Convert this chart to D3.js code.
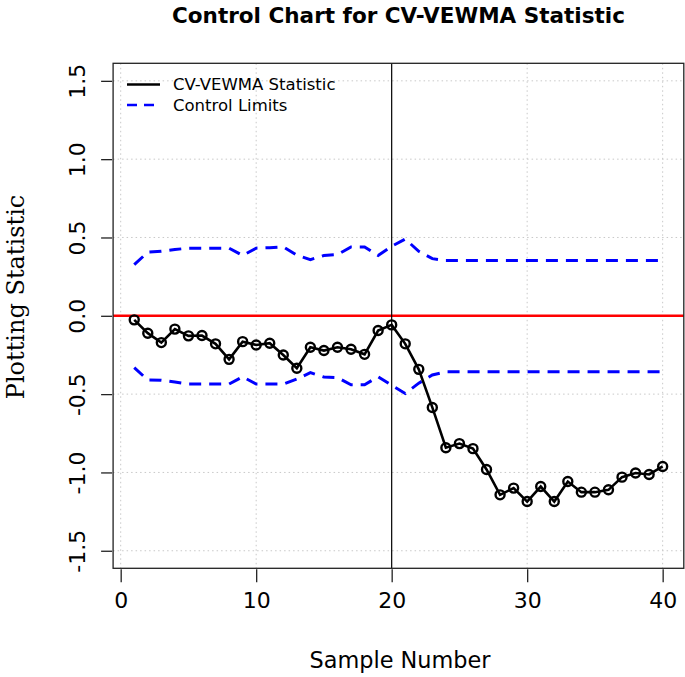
<!DOCTYPE html><html><head><meta charset="utf-8"></head>
<script src="https://cdn.jsdelivr.net/npm/d3@7"></script>
<body style="margin:0;background:#fff">
<svg id="chart"></svg>
<script>

// sample numbers 1..40 and the plotted statistic
var samples = [1,2,3,4,5,6,7,8,9,10,11,12,13,14,15,16,17,18,19,20,
               21,22,23,24,25,26,27,28,29,30,31,32,33,34,35,36,37,38,39,40];
var statistic = [-0.026,-0.111,-0.171,-0.085,-0.128,-0.126,-0.179,-0.278,-0.165,-0.186,
                 -0.175,-0.250,-0.335,-0.201,-0.222,-0.201,-0.214,-0.246,-0.094,-0.058,
                 -0.179,-0.342,-0.585,-0.842,-0.816,-0.848,-0.981,-1.143,-1.100,-1.186,
                 -1.090,-1.186,-1.058,-1.126,-1.126,-1.111,-1.030,-1.004,-1.013,-0.962];
var upperLimit = [0.327,0.406,0.412,0.423,0.432,0.432,0.432,0.432,0.385,0.432,
                  0.435,0.440,0.387,0.359,0.385,0.391,0.440,0.440,0.385,0.444,
                  0.490,0.412,0.365,0.353,0.353,0.353,0.353,0.353,0.353,0.353,
                  0.353,0.353,0.353,0.353,0.353,0.353,0.353,0.353,0.353,0.353];
var lowerLimit = [-0.331,-0.410,-0.412,-0.423,-0.436,-0.436,-0.436,-0.436,-0.389,-0.436,
                  -0.436,-0.436,-0.404,-0.363,-0.391,-0.395,-0.440,-0.440,-0.389,-0.444,
                  -0.496,-0.430,-0.378,-0.357,-0.357,-0.357,-0.357,-0.357,-0.357,-0.357,
                  -0.357,-0.357,-0.357,-0.357,-0.357,-0.357,-0.357,-0.357,-0.357,-0.357];
var xTicks = [0,10,20,30,40];
var yTicks = [-1.5,-1.0,-0.5,0.0,0.5,1.0,1.5];
var changePoint = 20;
var legendLabels = ["CV-VEWMA Statistic", "Control Limits"];

var width = 685, height = 677;
var sans = "DejaVu Sans, sans-serif";

var svg = d3.select("#chart")
    .attr("width", width)
    .attr("height", height)
    .style("font-family", sans);

var x = d3.scaleLinear().domain([-0.56, 41.56]).range([113.1, 683.8]);
var y = d3.scaleLinear().domain([-1.612, 1.612]).range([568.3, 63.3]);

// grid
svg.selectAll(".vgrid")
    .data(xTicks.filter(function(d) { return d != changePoint; }))
    .enter().append("line")
    .attr("x1", function(d) { return x(d); })
    .attr("x2", function(d) { return x(d); })
    .attr("y1", y.range()[1]).attr("y2", y.range()[0])
    .attr("stroke", "#c8c8c8").attr("stroke-width", 1)
    .attr("stroke-dasharray", "1.5,3");

svg.selectAll(".hgrid")
    .data(yTicks.filter(function(d) { return d != 0; }))
    .enter().append("line")
    .attr("y1", function(d) { return y(d); })
    .attr("y2", function(d) { return y(d); })
    .attr("x1", x.range()[0]).attr("x2", x.range()[1])
    .attr("stroke", "#c8c8c8").attr("stroke-width", 1)
    .attr("stroke-dasharray", "1.5,3");

// control limits
var limitLine = d3.line()
    .x(function(d, i) { return x(samples[i]); })
    .y(function(d) { return y(d); });

[upperLimit, lowerLimit].forEach(function(lim) {
  svg.append("path")
      .attr("d", limitLine(lim))
      .attr("fill", "none")
      .attr("stroke", "#0000ff")
      .attr("stroke-width", 3)
      .attr("stroke-dasharray", "12,8");
});

// centre line and change point
svg.append("line")
    .attr("x1", x.range()[0]).attr("x2", x.range()[1])
    .attr("y1", y(0)).attr("y2", y(0))
    .attr("stroke", "#ff0000").attr("stroke-width", 2.5);

svg.append("line")
    .attr("x1", x(changePoint)).attr("x2", x(changePoint))
    .attr("y1", y.range()[1]).attr("y2", y.range()[0])
    .attr("stroke", "#000").attr("stroke-width", 1.2);

// statistic (line runs through open circles, like type="o")
svg.append("path")
    .attr("d", d3.line()
        .x(function(d, i) { return x(samples[i]); })
        .y(function(d) { return y(d); })(statistic))
    .attr("fill", "none")
    .attr("stroke", "#000")
    .attr("stroke-width", 2.6);

svg.selectAll(".pt")
    .data(statistic)
    .enter().append("circle")
    .attr("cx", function(d, i) { return x(samples[i]); })
    .attr("cy", function(d) { return y(d); })
    .attr("r", 4.5)
    .attr("fill", "none")
    .attr("stroke", "#000")
    .attr("stroke-width", 2.4);

// box
svg.append("rect")
    .attr("x", x.range()[0]).attr("y", y.range()[1])
    .attr("width", x.range()[1] - x.range()[0])
    .attr("height", y.range()[0] - y.range()[1])
    .attr("fill", "none")
    .attr("stroke", "#222").attr("stroke-width", 1.3);

// axes
var xAxis = svg.append("g")
    .attr("transform", "translate(0," + (y.range()[0] + 1) + ")")
    .call(d3.axisBottom(x).tickValues(xTicks).tickSize(13).tickPadding(10)
        .tickFormat(function(d) { return String(d); }));
xAxis.select(".domain").attr("stroke", "none");
xAxis.selectAll("text")
    .style("font-family", sans).style("font-size", "22px").attr("fill", "#000");
xAxis.selectAll("line").attr("stroke", "#222").attr("stroke-width", 1.3);

var yAxis = svg.append("g")
    .attr("transform", "translate(" + (x.range()[0] - 1) + ",0)")
    .call(d3.axisLeft(y).tickValues(yTicks).tickSize(11)
        .tickFormat(function(d) { return d.toFixed(1); }));
yAxis.select(".domain").attr("stroke", "none");
yAxis.selectAll("line").attr("stroke", "#222").attr("stroke-width", 1.3);
yAxis.selectAll("text")
    .attr("x", null).attr("dy", null)
    .attr("text-anchor", "middle")
    .attr("transform", "translate(-27,0) rotate(-90)")
    .style("font-family", sans).style("font-size", "22px").attr("fill", "#000");

// titles
svg.append("text")
    .attr("x", 398.5).attr("y", 23)
    .attr("text-anchor", "middle")
    .attr("textLength", 453).attr("lengthAdjust", "spacingAndGlyphs")
    .style("font-weight", "bold").style("font-size", "22px")
    .text("Control Chart for CV-VEWMA Statistic");

svg.append("text")
    .attr("x", 400).attr("y", 668)
    .attr("text-anchor", "middle")
    .attr("textLength", 181).attr("lengthAdjust", "spacingAndGlyphs")
    .style("font-size", "23px")
    .text("Sample Number");

svg.append("text")
    .attr("transform", "translate(24,297) rotate(-90)")
    .attr("text-anchor", "middle")
    .style("font-family", "DejaVu Serif, serif").style("font-size", "24px")
    .text("Plotting Statistic");

// legend
var legend = svg.selectAll(".legend")
    .data(legendLabels)
    .enter().append("g")
    .attr("transform", function(d, i) { return "translate(127," + (84.5 + i * 20.5) + ")"; });

legend.append("line")
    .attr("x1", 0).attr("x2", 33)
    .attr("stroke", function(d, i) { return i == 0 ? "#000" : "#0000ff"; })
    .attr("stroke-width", 2.6)
    .attr("stroke-dasharray", function(d, i) { return i == 0 ? null : "10,7"; });

legend.append("text")
    .attr("x", 46).attr("dy", "0.35em")
    .style("font-size", "16.5px")
    .text(function(d) { return d; });

</script>
</body></html>
